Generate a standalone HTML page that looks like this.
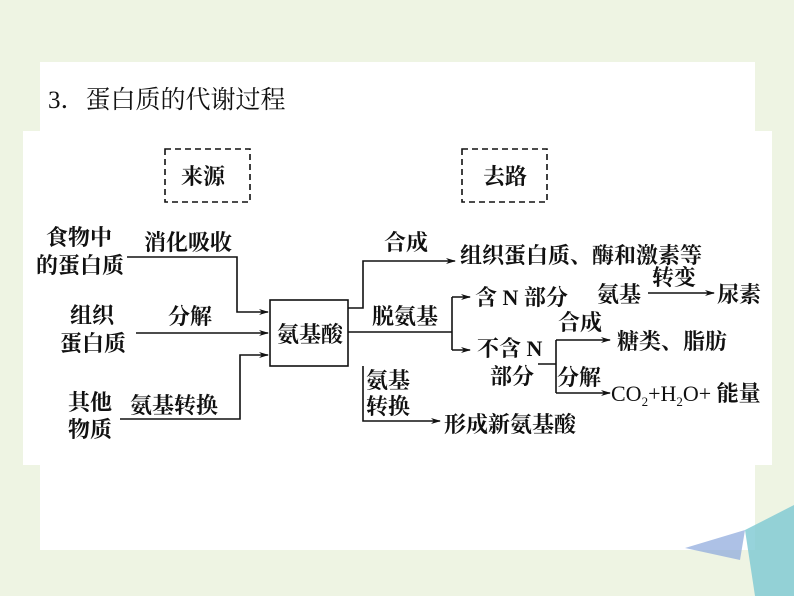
<!DOCTYPE html>
<html><head><meta charset="utf-8"><style>
html,body{margin:0;padding:0;background:#eef4e3;width:794px;height:596px;overflow:hidden;position:relative}
.p{position:absolute;background:#fff}
svg{position:absolute;left:0;top:0}
text{font-family:"Liberation Serif","Noto Serif CJK SC",serif;font-size:22px;fill:#111;font-weight:bold}
</style></head><body>
<div class="p" style="left:40px;top:62px;width:715px;height:488px"></div>
<div class="p" style="left:23px;top:131px;width:749px;height:334px"></div>
<svg width="794" height="596" viewBox="0 0 794 596">
<polygon points="685,548 745,530 740,560" fill="#8aa6dc" opacity="0.7"/>
<polygon points="745,530 794,505 794,596 755,596" fill="#7cc8d2" opacity="0.8"/>
<defs><marker id="a" markerWidth="10" markerHeight="8" refX="9" refY="4" orient="auto" markerUnits="userSpaceOnUse"><path d="M0,1 L10,4 L0,7 L3,4z" fill="#111"/></marker></defs>
<text x="48" y="108" style="font-size:25px;font-weight:normal">3．蛋白质的代谢过程</text>
<g fill="none" stroke="#111" stroke-width="1.6">
<rect x="165" y="149" width="85" height="53" stroke-dasharray="6,4"/>
<rect x="462" y="149" width="85" height="53" stroke-dasharray="6,4"/>
<rect x="270" y="300" width="78" height="66"/>
<polyline points="127,257 237,257 237,312 268,312" marker-end="url(#a)"/>
<polyline points="136,333 268,333" marker-end="url(#a)"/>
<polyline points="120,419 240,419 240,355 268,355" marker-end="url(#a)"/>
<polyline points="348,308 363,308 363,261 455,261" marker-end="url(#a)"/>
<polyline points="348,332 452,332"/>
<polyline points="452,297 452,350"/>
<polyline points="452,297 470,297" marker-end="url(#a)"/>
<polyline points="452,350 470,350" marker-end="url(#a)"/>
<polyline points="363,366 363,421 440,421" marker-end="url(#a)"/>
<polyline points="538,364 556,364"/>
<polyline points="556,340 556,393"/>
<polyline points="556,340 610,340" marker-end="url(#a)"/>
<polyline points="556,393 610,393" marker-end="url(#a)"/>
<polyline points="648,293 714,293" marker-end="url(#a)"/>
</g>
<text x="181" y="184">来源</text>
<text x="483" y="184">去路</text>
<text x="46" y="245">食物中</text>
<text x="36" y="273">的蛋白质</text>
<text x="144" y="250">消化吸收</text>
<text x="70" y="323">组织</text>
<text x="60" y="351">蛋白质</text>
<text x="168" y="324">分解</text>
<text x="68" y="410">其他</text>
<text x="68" y="437">物质</text>
<text x="130" y="413">氨基转换</text>
<text x="277" y="342">氨基酸</text>
<text x="384" y="250">合成</text>
<text x="460" y="263">组织蛋白质、酶和激素等</text>
<text x="372" y="324">脱氨基</text>
<text x="475" y="305">含 N 部分</text>
<text x="597" y="302">氨基</text>
<text x="652" y="285">转变</text>
<text x="717" y="302">尿素</text>
<text x="477" y="356">不含 N</text>
<text x="490" y="384">部分</text>
<text x="558" y="330">合成</text>
<text x="617" y="349">糖类、脂肪</text>
<text x="557" y="385">分解</text>
<text x="611" y="401" style="font-weight:normal">CO<tspan font-size="13" dy="5">2</tspan><tspan dy="-5">+H</tspan><tspan font-size="13" dy="5">2</tspan><tspan dy="-5">O+ <tspan font-weight="bold">能量</tspan></tspan></text>
<text x="366" y="388">氨基</text>
<text x="366" y="414">转换</text>
<text x="444" y="432">形成新氨基酸</text>
</svg>
</body></html>
